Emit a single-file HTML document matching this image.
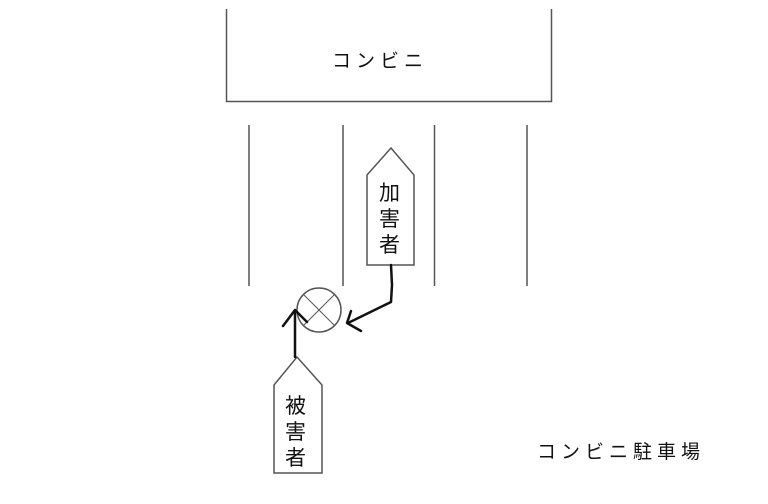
<!DOCTYPE html>
<html><head><meta charset="utf-8"><style>
html,body{margin:0;padding:0;background:#fff;}
svg{display:block;}
text{font-family:"Liberation Sans","Noto Sans CJK JP",sans-serif;fill:#111;}
</style></head><body>
<svg width="768" height="504" viewBox="0 0 768 504" xmlns="http://www.w3.org/2000/svg">
<g stroke="#555" stroke-width="1.5" fill="none">
<polyline points="226.5,9 226.5,101.5 551.5,101.5 551.5,9"/>
<line x1="249" y1="125" x2="249" y2="286"/>
<line x1="343" y1="125" x2="343" y2="286"/>
<line x1="434.5" y1="125" x2="434.5" y2="286"/>
<line x1="527" y1="125" x2="527" y2="286"/>
<polygon points="367,175 391,148 414,175 414,265 367,265"/>
<polygon points="274,385 297,357 322,385 322,473 274,473"/>
<circle cx="319" cy="310" r="22"/>
<line x1="303.5" y1="294.5" x2="334.5" y2="325.5" stroke-width="1"/>
<line x1="334.5" y1="294.5" x2="303.5" y2="325.5" stroke-width="1"/>
</g>
<g stroke="#111" stroke-width="2.5" fill="none" stroke-linecap="round" stroke-linejoin="round">
<polyline points="391,265 392,285 391,302 348,323"/>
<polyline points="351,311 347,323 361,331"/>
<line x1="295" y1="357" x2="295" y2="311"/>
<polyline points="283,326 295,310 307,322"/>
</g>
<text x="332" y="67" font-size="19" letter-spacing="5">コンビニ</text>
<text x="537" y="458" font-size="19" letter-spacing="5">コンビニ駐車場</text>
<text x="379" y="200" font-size="21">加</text>
<text x="379" y="226" font-size="21">害</text>
<text x="379" y="252" font-size="21">者</text>
<text x="285" y="413" font-size="21">被</text>
<text x="285" y="439" font-size="21">害</text>
<text x="285" y="465" font-size="21">者</text>
</svg>
</body></html>
